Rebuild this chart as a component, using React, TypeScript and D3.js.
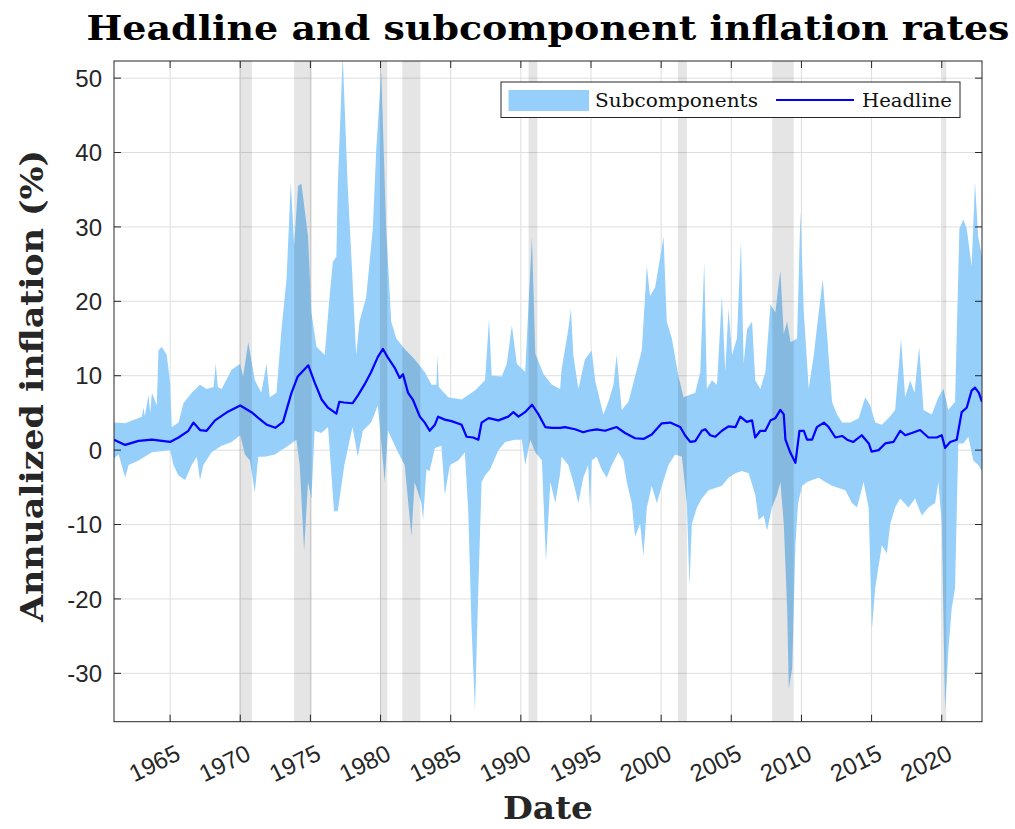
import React from "react";
import * as d3 from "d3";

// ---------- DATA ----------
const xTicks = [1965, 1970, 1975, 1980, 1985, 1990, 1995, 2000, 2005, 2010, 2015, 2020];
const yTicks = [-30, -20, -10, 0, 10, 20, 30, 40, 50];

const recessionStart = [1969.92, 1973.84, 1979.95, 1981.55, 1990.55, 2001.2, 2007.92, 2020.05];
const recessionEnd = [1970.83, 1975.1, 1980.48, 1982.84, 1991.18, 2001.83, 2009.45, 2020.32];

// [year, value]
const headline: [number, number][] = [
  [1961.0, 1.4], [1961.8, 0.7], [1962.75, 1.25], [1963.7, 1.4], [1965.0, 1.1], [1965.6, 1.7],
  [1966.3, 2.6], [1966.66, 3.7], [1967.13, 2.7], [1967.6, 2.6], [1968.2, 4.0], [1969.15, 5.2],
  [1970.0, 6.0], [1970.8, 5.1], [1971.3, 4.3], [1971.9, 3.4], [1972.5, 3.0], [1973.05, 3.8],
  [1973.65, 7.7], [1974.1, 9.9], [1974.85, 11.4], [1975.3, 9.1], [1975.8, 6.8], [1976.25, 5.7],
  [1976.85, 4.9], [1977.06, 6.5], [1977.4, 6.4], [1978.0, 6.3], [1978.4, 7.4], [1978.85, 8.8],
  [1979.33, 10.5], [1979.8, 12.5], [1980.17, 13.6], [1980.5, 12.5], [1981.0, 11.1], [1981.36, 9.7],
  [1981.6, 10.2], [1981.96, 7.7], [1982.3, 6.8], [1982.8, 4.5], [1983.15, 3.7], [1983.5, 2.6],
  [1983.87, 3.4], [1984.1, 4.5], [1984.58, 4.1], [1985.06, 3.9], [1985.78, 3.4], [1986.13, 1.8],
  [1986.6, 1.7], [1986.97, 1.4], [1987.2, 3.7], [1987.7, 4.3], [1988.4, 4.0], [1989.1, 4.5],
  [1989.47, 5.1], [1989.83, 4.5], [1990.3, 5.1], [1990.8, 6.1], [1991.26, 4.8], [1991.74, 3.1],
  [1992.2, 3.0], [1992.8, 3.0], [1993.14, 3.1], [1993.86, 2.8], [1994.45, 2.4], [1994.8, 2.6],
  [1995.4, 2.8], [1996.0, 2.6], [1996.83, 3.1], [1997.43, 2.3], [1998.14, 1.6], [1998.74, 1.5],
  [1999.33, 2.1], [2000.05, 3.6], [2000.64, 3.7], [2001.36, 3.1], [2001.7, 2.0], [2002.07, 1.1],
  [2002.43, 1.2], [2002.9, 2.6], [2003.14, 2.8], [2003.5, 2.0], [2003.86, 1.8], [2004.33, 2.6],
  [2004.8, 3.2], [2005.3, 3.1], [2005.64, 4.5], [2006.1, 3.8], [2006.48, 4.0], [2006.7, 1.7],
  [2007.07, 2.6], [2007.43, 2.6], [2007.8, 4.0], [2008.14, 4.3], [2008.5, 5.4], [2008.74, 4.8],
  [2008.86, 1.4], [2009.2, -0.3], [2009.57, -1.7], [2009.86, 2.6], [2010.17, 2.6], [2010.4, 1.4],
  [2010.76, 1.4], [2011.1, 3.1], [2011.6, 3.7], [2011.94, 3.1], [2012.42, 1.7], [2012.9, 1.9],
  [2013.25, 1.4], [2013.7, 1.1], [2014.3, 2.0], [2014.8, 0.9], [2015.0, -0.2], [2015.5, 0.0],
  [2015.97, 0.9], [2016.56, 1.1], [2017.04, 2.6], [2017.4, 2.0], [2017.87, 2.3], [2018.46, 2.7],
  [2019.05, 1.7], [2019.64, 1.7], [2020.0, 2.0], [2020.24, 0.3], [2020.6, 1.1], [2021.07, 1.4],
  [2021.42, 5.1], [2021.78, 5.7], [2022.13, 8.0], [2022.37, 8.4], [2022.65, 7.7], [2022.87, 6.5],
];

const upperBand: [number, number][] = [
  [1961.0, 3.7], [1961.8, 3.6], [1962.99, 4.5], [1963.1, 5.7], [1963.2, 4.6], [1963.46, 7.4],
  [1963.58, 5.0], [1963.7, 7.7], [1964.05, 6.0], [1964.17, 13.4], [1964.4, 13.9], [1964.76, 12.8],
  [1965.0, 9.0], [1965.12, 3.1], [1965.6, 3.7], [1965.95, 6.3], [1966.54, 7.7], [1967.13, 8.8],
  [1967.6, 8.2], [1968.1, 8.5], [1968.25, 11.6], [1968.4, 8.5], [1968.67, 8.2], [1969.38, 10.8],
  [1970.0, 11.6], [1970.2, 9.9], [1970.57, 14.5], [1971.04, 9.4], [1971.5, 7.7], [1971.87, 11.6],
  [1972.1, 7.1], [1972.58, 7.7], [1972.94, 16.2], [1973.3, 23.0], [1973.6, 36.0], [1973.84, 27.6],
  [1974.12, 35.5], [1974.36, 35.8], [1974.83, 28.7], [1975.07, 18.5], [1975.43, 13.9], [1976.02, 12.8],
  [1976.37, 20.7], [1976.6, 25.3], [1976.85, 26.0], [1976.95, 35.5], [1977.3, 53.0], [1977.66, 35.5],
  [1978.0, 23.0], [1978.26, 12.8], [1978.5, 17.3], [1978.97, 20.5], [1979.45, 29.8], [1979.69, 40.3],
  [1980.05, 50.9], [1980.4, 29.8], [1980.76, 17.3], [1981.12, 15.0], [1981.72, 13.6], [1982.43, 12.2],
  [1983.15, 10.5], [1983.63, 8.8], [1983.98, 8.8], [1984.06, 12.8], [1984.15, 8.5], [1984.82, 7.1],
  [1985.78, 6.8], [1986.73, 8.0], [1987.45, 9.4], [1987.73, 17.6], [1987.92, 10.0], [1988.64, 9.9],
  [1989.0, 11.6], [1989.36, 16.8], [1989.71, 11.6], [1990.31, 10.5], [1990.79, 28.7], [1991.03, 13.0],
  [1991.62, 10.2], [1992.22, 8.8], [1992.8, 8.2], [1992.9, 10.8], [1993.38, 16.2], [1993.57, 19.0],
  [1993.74, 12.8], [1994.1, 8.2], [1994.57, 12.2], [1995.05, 13.4], [1995.29, 9.4], [1995.88, 4.8],
  [1996.24, 6.5], [1996.6, 8.8], [1996.83, 12.8], [1997.19, 5.4], [1997.67, 6.5], [1998.14, 9.9],
  [1998.62, 13.4], [1998.98, 24.7], [1999.21, 20.7], [1999.57, 21.9], [1999.93, 25.9], [2000.17, 28.7],
  [2000.4, 17.3], [2000.76, 15.0], [2001.24, 9.9], [2001.6, 7.1], [2002.43, 7.7], [2002.79, 10.5],
  [2003.07, 25.3], [2003.26, 8.2], [2003.62, 9.4], [2003.98, 8.8], [2004.33, 20.7], [2004.57, 10.5],
  [2004.8, 19.0], [2005.05, 12.8], [2005.4, 15.0], [2005.69, 28.1], [2005.88, 11.6], [2006.12, 16.2],
  [2006.48, 17.3], [2006.71, 9.4], [2007.07, 8.2], [2007.43, 10.5], [2007.79, 19.6], [2008.14, 18.5],
  [2008.38, 22.4], [2008.5, 24.1], [2008.74, 15.6], [2008.98, 17.3], [2009.22, 14.5], [2009.69, 15.0],
  [2009.93, 32.1], [2010.17, 18.5], [2010.52, 8.2], [2010.88, 12.8], [2011.23, 18.5], [2011.52, 23.0],
  [2011.82, 15.6], [2012.18, 6.5], [2012.54, 4.8], [2012.9, 3.7], [2013.48, 3.7], [2014.08, 4.3],
  [2014.55, 7.1], [2014.9, 6.0], [2015.26, 3.7], [2015.73, 3.4], [2016.2, 4.3], [2016.68, 5.4],
  [2017.1, 15.0], [2017.39, 7.1], [2017.75, 9.4], [2018.06, 7.7], [2018.39, 13.9], [2018.7, 5.4],
  [2019.29, 4.8], [2019.76, 7.1], [2020.12, 8.2], [2020.47, 5.4], [2020.95, 6.5], [2021.26, 29.8],
  [2021.54, 31.0], [2021.78, 29.8], [2022.13, 24.7], [2022.37, 36.0], [2022.6, 28.7], [2022.87, 26.0],
];

const lowerBand: [number, number][] = [
  [1961.0, -1.1], [1961.33, -0.6], [1961.8, -3.7], [1962.04, -2.0], [1962.75, -1.4], [1963.7, -0.3],
  [1965.0, 0.0], [1965.24, -2.0], [1965.6, -3.4], [1966.07, -4.0], [1966.54, -2.0], [1966.9, -0.9],
  [1967.13, -4.0], [1967.37, -2.0], [1967.96, -0.3], [1968.67, 0.6], [1969.38, 1.1], [1970.0, 2.0],
  [1970.33, -0.6], [1970.69, -1.4], [1971.04, -5.7], [1971.28, -0.9], [1971.75, -0.9], [1972.46, -0.6],
  [1973.41, 0.6], [1974.0, 1.4], [1974.24, -2.0], [1974.55, -13.6], [1974.83, -4.3], [1975.07, -6.5],
  [1975.3, 2.6], [1975.78, 2.3], [1976.26, 3.1], [1976.68, -8.2], [1976.95, -8.2], [1977.42, -2.0],
  [1978.0, 3.1], [1978.38, -0.9], [1978.74, 2.6], [1979.33, 3.7], [1979.8, 6.0], [1980.17, -1.4],
  [1980.29, -4.3], [1980.53, 2.6], [1981.24, -0.3], [1981.72, -2.0], [1982.2, -11.6], [1982.43, -4.3],
  [1982.91, -7.1], [1983.03, -9.4], [1983.27, -2.6], [1983.5, -2.8], [1983.87, 0.3], [1984.34, 0.6],
  [1984.58, -6.0], [1984.94, -2.0], [1985.54, -1.4], [1986.01, -0.3], [1986.25, -8.2], [1986.49, -24.0],
  [1986.73, -35.0], [1986.97, -18.5], [1987.2, -4.3], [1987.45, -3.4], [1987.8, -2.6], [1988.4, 0.0],
  [1988.88, 1.1], [1989.6, 1.4], [1990.07, 1.4], [1990.31, -2.0], [1990.67, 1.4], [1991.03, -0.3],
  [1991.5, -1.4], [1991.79, -15.0], [1992.1, -4.3], [1992.46, -7.1], [1992.8, -3.1], [1992.9, -0.9],
  [1993.38, -2.0], [1993.74, -4.3], [1994.1, -7.1], [1994.45, -3.7], [1994.8, -2.0], [1994.93, -8.2],
  [1995.05, -1.4], [1995.4, -0.9], [1995.76, -2.6], [1996.12, -3.7], [1996.48, -2.0], [1996.95, -0.3],
  [1997.31, -1.4], [1997.55, -4.3], [1997.9, -7.1], [1998.14, -11.6], [1998.5, -9.9], [1998.74, -14.2],
  [1998.98, -7.7], [1999.33, -4.8], [1999.69, -7.1], [2000.05, -4.8], [2000.52, -2.0], [2001.0, -0.6],
  [2001.48, -0.9], [2001.83, -7.1], [2002.02, -18.2], [2002.19, -9.9], [2002.55, -7.7], [2002.9, -6.5],
  [2003.38, -5.4], [2003.86, -5.1], [2004.33, -4.8], [2004.8, -3.7], [2005.29, -3.1], [2005.76, -2.8],
  [2006.24, -3.1], [2006.71, -6.0], [2006.95, -9.4], [2007.31, -8.8], [2007.55, -10.8], [2007.9, -7.7],
  [2008.26, -6.0], [2008.5, -4.3], [2008.74, -9.9], [2008.98, -21.3], [2009.1, -32.1], [2009.34, -29.3],
  [2009.57, -12.8], [2009.76, -7.1], [2010.05, -4.8], [2010.4, -4.3], [2010.76, -4.0], [2011.23, -3.7],
  [2011.7, -4.3], [2012.18, -4.8], [2012.65, -5.1], [2013.13, -5.4], [2013.6, -7.1], [2013.96, -7.7],
  [2014.43, -4.3], [2014.79, -7.7], [2015.02, -24.1], [2015.26, -18.5], [2015.5, -15.6], [2015.73, -12.8],
  [2016.09, -13.9], [2016.33, -9.9], [2016.68, -7.7], [2017.04, -6.5], [2017.63, -7.7], [2018.1, -6.5],
  [2018.58, -8.8], [2019.05, -7.7], [2019.53, -7.1], [2019.76, -4.3], [2020.0, -9.9], [2020.24, -35.0],
  [2020.47, -27.0], [2020.71, -21.3], [2020.95, -18.5], [2021.18, 0.9], [2021.54, 0.9], [2021.9, 1.8],
  [2022.25, -1.4], [2022.6, -2.0], [2022.87, -2.8],
];

// ---------- LAYOUT ----------
const W = 1015;
const H = 829;
const M = { left: 114, right: 982, top: 61, bottom: 721.7 };

const serif = "'DejaVu Serif', 'Liberation Serif', serif";
const sans = "'Liberation Sans', Arial, Helvetica, sans-serif";

export default function App() {
  const x = d3.scaleLinear().domain([1961.0, 2022.87]).range([M.left, M.right]);
  const y = d3.scaleLinear().domain([-36.5, 52.3]).range([M.bottom, M.top]);

  const line = d3
    .line<[number, number]>()
    .x((d) => x(d[0]))
    .y((d) => y(d[1]));

  const bandPts: [number, number][] = [...upperBand, ...lowerBand.slice().reverse()];
  const bandPath = line(bandPts) + "Z";
  const headPath = line(headline) || "";

  const gridColor = "#dedede";
  const axisColor = "#262626";
  const tickLen = 7;

  return (
    <svg
      width={W}
      height={H}
      style={{ position: "absolute", left: 0, top: 0, background: "#fff" }}
    >
      <defs>
        <clipPath id="plotClip">
          <rect x={M.left} y={M.top} width={M.right - M.left} height={M.bottom - M.top} />
        </clipPath>
      </defs>
      <rect x={0} y={0} width={W} height={H} fill="#fff" />

      {/* grid */}
      <g>
        {xTicks.map((t) => (
          <line key={"gx" + t} x1={x(t)} x2={x(t)} y1={M.top} y2={M.bottom} stroke={gridColor} strokeWidth={1} />
        ))}
        {yTicks.map((t) => (
          <line key={"gy" + t} x1={M.left} x2={M.right} y1={y(t)} y2={y(t)} stroke={gridColor} strokeWidth={1} />
        ))}
      </g>

      <g clipPath="url(#plotClip)">
        <path d={bandPath} fill="#96cffa" stroke="none" />
        {recessionStart.map((s, i) => (
          <rect
            key={"r" + i}
            x={x(s)}
            y={M.top}
            width={x(recessionEnd[i]) - x(s)}
            height={M.bottom - M.top}
            fill="#000"
            fillOpacity={0.1}
          />
        ))}
        <path d={headPath} fill="none" stroke="#0000ff" strokeWidth={2.2} strokeLinejoin="round" />
      </g>

      {/* frame */}
      <rect
        x={M.left}
        y={M.top}
        width={M.right - M.left}
        height={M.bottom - M.top}
        fill="none"
        stroke={axisColor}
        strokeWidth={1}
      />

      {/* ticks */}
      {xTicks.map((t) => (
        <g key={"tx" + t}>
          <line x1={x(t)} x2={x(t)} y1={M.bottom} y2={M.bottom - tickLen} stroke={axisColor} />
          <line x1={x(t)} x2={x(t)} y1={M.top} y2={M.top + tickLen} stroke={axisColor} />
          <text
            transform={`translate(${x(t) + 12},${759}) rotate(-26)`}
            textAnchor="end"
            fontFamily={sans}
            fontSize={24}
            fill={axisColor}
          >
            {t}
          </text>
        </g>
      ))}
      {yTicks.map((t) => (
        <g key={"ty" + t}>
          <line x1={M.left} x2={M.left + tickLen} y1={y(t)} y2={y(t)} stroke={axisColor} />
          <line x1={M.right} x2={M.right - tickLen} y1={y(t)} y2={y(t)} stroke={axisColor} />
          <text
            x={102}
            y={y(t)}
            dy="0.36em"
            textAnchor="end"
            fontFamily={sans}
            fontSize={24}
            fill={axisColor}
          >
            {t}
          </text>
        </g>
      ))}

      {/* legend */}
      <g>
        <rect x={501} y={82} width={459} height={35.5} fill="#fff" stroke={axisColor} strokeWidth={1} />
        <rect x={508.5} y={90} width={80.5} height={21} fill="#96cffa" />
        <text x={595} y={106.5} fontFamily={serif} fontSize={19} textLength={163} lengthAdjust="spacingAndGlyphs" fill="#111">
          Subcomponents
        </text>
        <line x1={776} x2={854} y1={100} y2={100} stroke="#0000ff" strokeWidth={2} />
        <text x={862} y={106.5} fontFamily={serif} fontSize={19} textLength={90} lengthAdjust="spacingAndGlyphs" fill="#111">
          Headline
        </text>
      </g>

      {/* title */}
      <text
        x={548}
        y={40}
        textAnchor="middle"
        fontFamily={serif}
        fontWeight="bold"
        fontSize={33}
        textLength={923}
        lengthAdjust="spacingAndGlyphs"
        fill="#000"
      >
        Headline and subcomponent inflation rates
      </text>

      {/* x label */}
      <text
        x={548}
        y={819}
        textAnchor="middle"
        fontFamily={serif}
        fontWeight="bold"
        fontSize={31}
        textLength={90}
        lengthAdjust="spacingAndGlyphs"
        fill="#262626"
      >
        Date
      </text>

      {/* y label */}
      <text
        transform={`translate(${43},${386}) rotate(-90)`}
        textAnchor="middle"
        fontFamily={serif}
        fontWeight="bold"
        fontSize={32}
        textLength={472}
        lengthAdjust="spacingAndGlyphs"
        fill="#262626"
      >
        Annualized inflation (%)
      </text>
    </svg>
  );
}
